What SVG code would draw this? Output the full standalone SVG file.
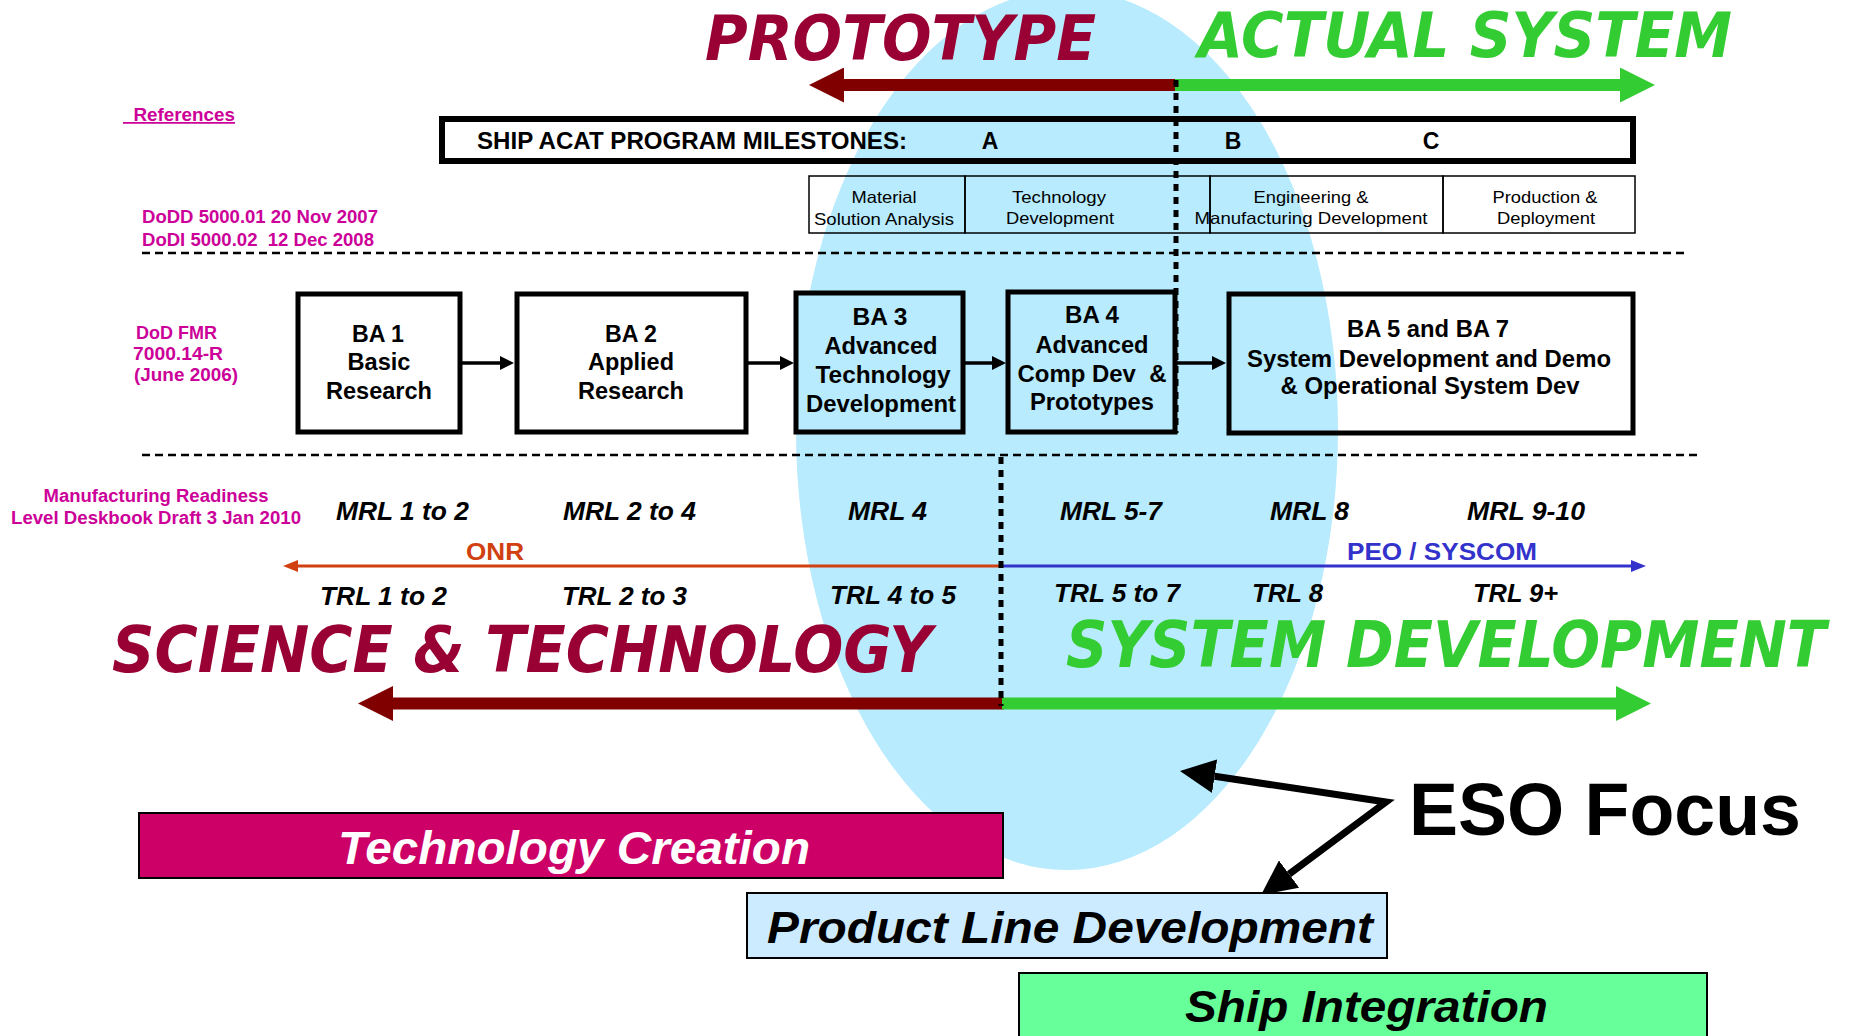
<svg xmlns="http://www.w3.org/2000/svg" width="1850" height="1036" viewBox="0 0 1850 1036">
<style>
text{font-family:"Liberation Sans",Arial,sans-serif}
.pink{font-weight:bold;font-size:17.5px;fill:#CC0099}
.phase{font-size:16.5px;fill:#000}
.ba{font-weight:bold;font-size:23px;fill:#000}
.rl{font-weight:bold;font-style:italic;font-size:25px;fill:#000}
.big{font-family:"DejaVu Sans",Verdana,sans-serif;font-weight:bold;font-style:italic;font-size:62px}
.cond{font-family:"DejaVu Sans Condensed","DejaVu Sans",sans-serif}
.red{fill:#990033}
.grn{fill:#33CC33}
.box{fill:none;stroke:#000;stroke-width:5}
.pbox{fill:none;stroke:#000;stroke-width:1.5}
.dash{stroke:#000;stroke-width:2.5;stroke-dasharray:8 5;fill:none}
.vdot{stroke:#000;stroke-width:5;stroke-dasharray:7 6;fill:none}
.conn{stroke:#000;stroke-width:3.5;fill:none}
.bar{font-weight:bold;font-style:italic;font-size:47px}
</style>
<defs>
<marker id="ah" viewBox="0 0 14 14" refX="0" refY="7" markerWidth="14" markerHeight="14" markerUnits="userSpaceOnUse" orient="auto"><path d="M0,0 L14,7 L0,14 z" fill="#000"/></marker>
<marker id="ahOnr" viewBox="0 0 15 12" refX="0" refY="6" markerWidth="15" markerHeight="12" markerUnits="userSpaceOnUse" orient="auto"><path d="M0,0 L15,6 L0,12 z" fill="#D04010"/></marker>
<marker id="ahPeo" viewBox="0 0 15 12" refX="0" refY="6" markerWidth="15" markerHeight="12" markerUnits="userSpaceOnUse" orient="auto"><path d="M0,0 L15,6 L0,12 z" fill="#3333CC"/></marker>
<marker id="bigRed" viewBox="0 0 35 35" refX="0" refY="17.5" markerWidth="35" markerHeight="35" markerUnits="userSpaceOnUse" orient="auto"><path d="M0,0 L35,17.5 L0,35 z" fill="#800000"/></marker>
<marker id="bigGrn" viewBox="0 0 35 35" refX="0" refY="17.5" markerWidth="35" markerHeight="35" markerUnits="userSpaceOnUse" orient="auto"><path d="M0,0 L35,17.5 L0,35 z" fill="#33CC33"/></marker>
<marker id="eso" viewBox="0 0 35 34" refX="0" refY="17" markerWidth="35" markerHeight="34" markerUnits="userSpaceOnUse" orient="auto"><path d="M0,0 L35,17 L0,34 z" fill="#000"/></marker>
</defs>
<rect width="1850" height="1036" fill="#fff"/>
<ellipse id="focus-ellipse" cx="1067" cy="430" rx="271" ry="440" fill="#B7EBFD"/>

<g id="titles">
<text class="big red" x="705" y="60" textLength="391" lengthAdjust="spacingAndGlyphs">PROTOTYPE</text>
<text class="big grn" x="1198" y="57" textLength="534" lengthAdjust="spacingAndGlyphs">ACTUAL SYSTEM</text>
<text class="big red" x="112" y="672" textLength="820" lengthAdjust="spacingAndGlyphs" style="font-size:64px">SCIENCE &amp; TECHNOLOGY</text>
<text class="big cond grn" x="1066" y="667" textLength="760" lengthAdjust="spacingAndGlyphs" style="font-size:64px">SYSTEM DEVELOPMENT</text>
</g>

<g id="references">
<text class="pink" x="123" y="121" xml:space="preserve" textLength="112" lengthAdjust="spacingAndGlyphs" text-decoration="underline" style="text-decoration:underline">  References</text>
<text class="pink" x="142" y="223" textLength="236" lengthAdjust="spacingAndGlyphs">DoDD 5000.01 20 Nov 2007</text>
<text class="pink" x="142" y="246" xml:space="preserve" textLength="232" lengthAdjust="spacingAndGlyphs">DoDI 5000.02  12 Dec 2008</text>
<text class="pink" x="136" y="339" textLength="81" lengthAdjust="spacingAndGlyphs">DoD FMR</text>
<text class="pink" x="133" y="360" textLength="90" lengthAdjust="spacingAndGlyphs">7000.14-R</text>
<text class="pink" x="134" y="381" textLength="104" lengthAdjust="spacingAndGlyphs">(June 2006)</text>
<text class="pink" x="156" y="502" text-anchor="middle" textLength="225" lengthAdjust="spacingAndGlyphs">Manufacturing Readiness</text>
<text class="pink" x="156" y="524" text-anchor="middle" textLength="290" lengthAdjust="spacingAndGlyphs">Level Deskbook Draft 3 Jan 2010</text>
</g>

<g id="milestones">
<rect x="442" y="119" width="1191" height="42" fill="none" stroke="#000" stroke-width="6"/>
<text class="ba" x="477" y="149" textLength="430" lengthAdjust="spacingAndGlyphs">SHIP ACAT PROGRAM MILESTONES:</text>
<text class="ba" x="990" y="149" text-anchor="middle">A</text>
<text class="ba" x="1233" y="149" text-anchor="middle">B</text>
<text class="ba" x="1431" y="149" text-anchor="middle">C</text>
</g>

<g id="phase-msa">
<rect class="pbox" x="809" y="176" width="156" height="57"/>
<text class="phase" x="884" y="203" text-anchor="middle" textLength="65" lengthAdjust="spacingAndGlyphs">Material</text>
<text class="phase" x="884" y="225" text-anchor="middle" textLength="140" lengthAdjust="spacingAndGlyphs">Solution Analysis</text>
</g>
<g id="phase-td">
<rect class="pbox" x="965" y="176" width="245" height="57"/>
<text class="phase" x="1059" y="203" text-anchor="middle" textLength="94" lengthAdjust="spacingAndGlyphs">Technology</text>
<text class="phase" x="1060" y="224" text-anchor="middle" textLength="108" lengthAdjust="spacingAndGlyphs">Development</text>
</g>
<g id="phase-emd">
<rect class="pbox" x="1210" y="176" width="233" height="57"/>
<text class="phase" x="1311" y="203" text-anchor="middle" textLength="115" lengthAdjust="spacingAndGlyphs">Engineering &amp;</text>
<text class="phase" x="1311" y="224" text-anchor="middle" textLength="233" lengthAdjust="spacingAndGlyphs">Manufacturing Development</text>
</g>
<g id="phase-pd">
<rect class="pbox" x="1443" y="176" width="192" height="57"/>
<text class="phase" x="1545" y="203" text-anchor="middle" textLength="105" lengthAdjust="spacingAndGlyphs">Production &amp;</text>
<text class="phase" x="1546" y="224" text-anchor="middle" textLength="98" lengthAdjust="spacingAndGlyphs">Deployment</text>
</g>

<g id="dividers">
<line class="dash" x1="142" y1="253" x2="1687" y2="253"/>
<line class="dash" x1="142" y1="455" x2="1698" y2="455"/>
</g>

<g id="ba1">
<rect class="box" x="298" y="294" width="162" height="138"/>
<text class="ba" x="378" y="342" text-anchor="middle" textLength="52" lengthAdjust="spacingAndGlyphs">BA 1</text>
<text class="ba" x="379" y="370" text-anchor="middle" textLength="63" lengthAdjust="spacingAndGlyphs">Basic</text>
<text class="ba" x="379" y="399" text-anchor="middle" textLength="106" lengthAdjust="spacingAndGlyphs">Research</text>
</g>
<g id="ba2">
<rect class="box" x="517" y="294" width="229" height="138"/>
<text class="ba" x="631" y="342" text-anchor="middle" textLength="52" lengthAdjust="spacingAndGlyphs">BA 2</text>
<text class="ba" x="631" y="370" text-anchor="middle" textLength="86" lengthAdjust="spacingAndGlyphs">Applied</text>
<text class="ba" x="631" y="399" text-anchor="middle" textLength="106" lengthAdjust="spacingAndGlyphs">Research</text>
</g>
<g id="ba3">
<rect class="box" x="796" y="293" width="167" height="139" style="fill:#B7EBFD"/>
<text class="ba" x="880" y="325" text-anchor="middle" textLength="55" lengthAdjust="spacingAndGlyphs">BA 3</text>
<text class="ba" x="881" y="354" text-anchor="middle" textLength="113" lengthAdjust="spacingAndGlyphs">Advanced</text>
<text class="ba" x="883" y="383" text-anchor="middle" textLength="135" lengthAdjust="spacingAndGlyphs">Technology</text>
<text class="ba" x="881" y="412" text-anchor="middle" textLength="150" lengthAdjust="spacingAndGlyphs">Development</text>
</g>
<g id="ba4">
<rect class="box" x="1008" y="292" width="167" height="140"/>
<text class="ba" x="1092" y="323" text-anchor="middle" textLength="54" lengthAdjust="spacingAndGlyphs">BA 4</text>
<text class="ba" x="1092" y="353" text-anchor="middle" textLength="113" lengthAdjust="spacingAndGlyphs">Advanced</text>
<text class="ba" x="1092" y="382" text-anchor="middle" textLength="149" lengthAdjust="spacingAndGlyphs" xml:space="preserve">Comp Dev  &amp;</text>
<text class="ba" x="1092" y="410" text-anchor="middle" textLength="124" lengthAdjust="spacingAndGlyphs">Prototypes</text>
</g>
<g id="ba5">
<rect class="box" x="1229" y="294" width="404" height="139"/>
<text class="ba" x="1428" y="337" text-anchor="middle" textLength="162" lengthAdjust="spacingAndGlyphs">BA 5 and BA 7</text>
<text class="ba" x="1429" y="367" text-anchor="middle" textLength="364" lengthAdjust="spacingAndGlyphs">System Development and Demo</text>
<text class="ba" x="1430" y="394" text-anchor="middle" textLength="299" lengthAdjust="spacingAndGlyphs">&amp; Operational System Dev</text>
</g>

<g id="readiness-levels">
<text class="rl" x="336" y="520" textLength="133" lengthAdjust="spacingAndGlyphs">MRL 1 to 2</text>
<text class="rl" x="563" y="520" textLength="133" lengthAdjust="spacingAndGlyphs">MRL 2 to 4</text>
<text class="rl" x="848" y="520" textLength="79" lengthAdjust="spacingAndGlyphs">MRL 4</text>
<text class="rl" x="1060" y="520" textLength="102" lengthAdjust="spacingAndGlyphs">MRL 5-7</text>
<text class="rl" x="1270" y="520" textLength="79" lengthAdjust="spacingAndGlyphs">MRL 8</text>
<text class="rl" x="1467" y="520" textLength="118" lengthAdjust="spacingAndGlyphs">MRL 9-10</text>
<text class="rl" x="320" y="605" textLength="127" lengthAdjust="spacingAndGlyphs">TRL 1 to 2</text>
<text class="rl" x="562" y="605" textLength="125" lengthAdjust="spacingAndGlyphs">TRL 2 to 3</text>
<text class="rl" x="830" y="604" textLength="126" lengthAdjust="spacingAndGlyphs">TRL 4 to 5</text>
<text class="rl" x="1054" y="602" textLength="126" lengthAdjust="spacingAndGlyphs">TRL 5 to 7</text>
<text class="rl" x="1252" y="602" textLength="71" lengthAdjust="spacingAndGlyphs">TRL 8</text>
<text class="rl" x="1473" y="602" textLength="85" lengthAdjust="spacingAndGlyphs">TRL 9+</text>
<text x="466" y="560" textLength="58" lengthAdjust="spacingAndGlyphs" style="font-weight:bold;font-size:23px;fill:#D04010">ONR</text>
<text x="1347" y="560" textLength="190" lengthAdjust="spacingAndGlyphs" style="font-weight:bold;font-size:23px;fill:#3333CC">PEO / SYSCOM</text>
</g>

<g id="connectors">
<line class="conn" x1="460" y1="363" x2="500" y2="363" marker-end="url(#ah)"/>
<line class="conn" x1="746" y1="363" x2="780" y2="363" marker-end="url(#ah)"/>
<line class="conn" x1="963" y1="363" x2="992" y2="363" marker-end="url(#ah)"/>
<line class="conn" x1="1177" y1="363" x2="1212" y2="363" marker-end="url(#ah)"/>
<line x1="1001" y1="566" x2="298" y2="566" stroke="#D04010" stroke-width="3" marker-end="url(#ahOnr)"/>
<line x1="1001" y1="566" x2="1631" y2="566" stroke="#3333CC" stroke-width="3" marker-end="url(#ahPeo)"/>
<line x1="1177" y1="85" x2="844" y2="85" stroke="#800000" stroke-width="12" marker-end="url(#bigRed)"/>
<line x1="1175" y1="85" x2="1620" y2="85" stroke="#33CC33" stroke-width="12" marker-end="url(#bigGrn)"/>
<line x1="1004" y1="703.5" x2="393" y2="703.5" stroke="#800000" stroke-width="12" marker-end="url(#bigRed)"/>
<line x1="1002" y1="703.5" x2="1616" y2="703.5" stroke="#33CC33" stroke-width="12" marker-end="url(#bigGrn)"/>
<line class="vdot" x1="1176" y1="80" x2="1176" y2="433"/>
<line class="vdot" x1="1001" y1="457" x2="1001" y2="706"/>
<polyline points="1214.6,776.2 1386,802 1289.1,874.1" fill="none" stroke="#000" stroke-width="7" stroke-linejoin="miter"/>
<line x1="1386" y1="802" x2="1214.6" y2="776.2" stroke="none" marker-end="url(#eso)"/>
<line x1="1386" y1="802" x2="1289.1" y2="874.1" stroke="none" marker-end="url(#eso)"/>
</g>

<g id="technology-creation">
<rect x="139" y="813" width="864" height="65" fill="#CC0066" stroke="#000" stroke-width="2"/>
<text class="bar" x="338" y="864" textLength="472" lengthAdjust="spacingAndGlyphs" fill="#fff">Technology Creation</text>
</g>
<g id="product-line-development">
<rect x="747" y="893" width="640" height="65" fill="#CCEBFF" stroke="#000" stroke-width="2"/>
<text class="bar" x="767" y="943" textLength="606" lengthAdjust="spacingAndGlyphs" fill="#000" style="font-size:45px">Product Line Development</text>
</g>
<g id="ship-integration">
<rect x="1019" y="973" width="688" height="80" fill="#66FF99" stroke="#000" stroke-width="2"/>
<text class="bar" x="1185" y="1022" textLength="363" lengthAdjust="spacingAndGlyphs" fill="#000" style="font-size:45px">Ship Integration</text>
</g>
<g id="eso-focus">
<text x="1409" y="835" textLength="392" lengthAdjust="spacingAndGlyphs" style="font-weight:bold;font-size:74px;fill:#000">ESO Focus</text>
</g>
</svg>
